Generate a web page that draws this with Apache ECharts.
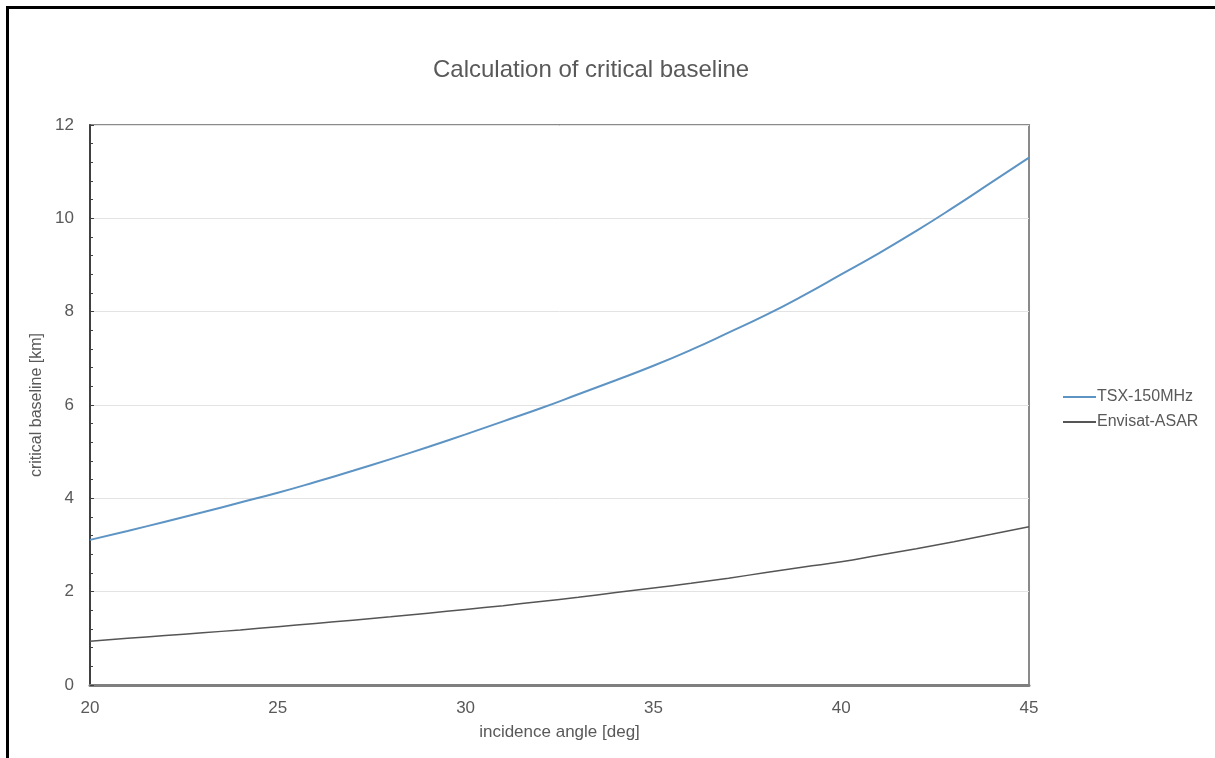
<!DOCTYPE html>
<html>
<head>
<meta charset="utf-8">
<script src="https://cdn.jsdelivr.net/npm/echarts@6/dist/echarts.min.js"></script>
<style>
  html, body { margin: 0; padding: 0; background: #fff; }
  #frame { position: absolute; left: 6px; top: 6px; width: 1215px; height: 760px;
           border-left: 3px solid #000; border-top: 3px solid #000; }
  #chart { position: absolute; left: 0; top: 0; width: 1215px; height: 758px; }
</style>
</head>
<body>
<div id="frame"></div>
<div id="chart"></div>
<script>
// incidence angle [deg]
const angles = [20, 21, 22, 23, 24, 25, 26, 27, 28, 29, 30, 31, 32, 33, 34, 35,
                36, 37, 38, 39, 40, 41, 42, 43, 44, 45]
// critical baseline [km]
const tsx = [3.11, 3.30, 3.50, 3.70, 3.91, 4.12, 4.35, 4.59, 4.84, 5.10, 5.37, 5.65,
             5.93, 6.23, 6.53, 6.84, 7.18, 7.55, 7.93, 8.35, 8.80, 9.25, 9.73, 10.24,
             10.77, 11.30]
const envisat = [0.94, 1.00, 1.06, 1.12, 1.18, 1.25, 1.32, 1.39, 1.46, 1.54, 1.62, 1.70,
                 1.79, 1.88, 1.98, 2.08, 2.18, 2.29, 2.41, 2.53, 2.64, 2.78, 2.92, 3.07,
                 3.23, 3.39]
const seriesNames = ['TSX-150MHz', 'Envisat-ASAR']

const font = 'Liberation Sans, Arial, sans-serif'
const myChart = echarts.init(document.getElementById('chart'))

const pairs = (ys) => angles.map((a, i) => [a, ys[i]])

myChart.setOption({
  animation: false,
  title: {
    text: 'Calculation of critical baseline',
    left: 428,
    top: 53,
    textStyle: {color: '#595959', fontSize: 24, fontWeight: 'normal', fontFamily: font}
  },
  legend: {
    orient: 'vertical',
    left: 1058,
    top: 384,
    itemWidth: 33,
    itemHeight: 2,
    itemGap: 9,
    icon: 'rect',
    textStyle: {color: '#595959', fontSize: 16, fontFamily: font, padding: [0, 0, 0, -4]},
    data: seriesNames
  },
  grid: {
    left: 90, right: 186, top: 125, bottom: 73,
    show: true, borderColor: '#8a8a8a', borderWidth: 2, backgroundColor: 'transparent'
  },
  xAxis: {
    type: 'value',
    min: 20, max: 45, interval: 5,
    name: 'incidence angle [deg]',
    nameLocation: 'middle',
    nameGap: 39,
    nameTextStyle: {color: '#595959', fontSize: 17, fontFamily: font},
    axisLine: {show: true, lineStyle: {color: '#7f7f7f', width: 3}},
    axisTick: {show: false},
    splitLine: {show: false},
    axisLabel: {color: '#595959', fontSize: 17, fontFamily: font, margin: 15}
  },
  yAxis: {
    type: 'value',
    min: 0, max: 12, interval: 2,
    name: 'critical baseline [km]',
    nameLocation: 'middle',
    nameGap: 38,
    nameTextStyle: {color: '#595959', fontSize: 16, fontFamily: font},
    axisLine: {show: true, lineStyle: {color: '#404040', width: 2}},
    axisTick: {show: true, inside: true, length: 4, lineStyle: {color: '#404040'}},
    minorTick: {show: true, splitNumber: 5, length: 3, lineStyle: {color: '#404040'}},
    splitLine: {show: true, lineStyle: {color: '#e3e3e3', width: 1}},
    axisLabel: {color: '#595959', fontSize: 17, fontFamily: font, margin: 16}
  },
  series: [
    {
      name: seriesNames[0], type: 'line', data: pairs(tsx), smooth: true,
      showSymbol: false, lineStyle: {color: '#5d94c4', width: 2}, itemStyle: {color: '#5d94c4'}
    },
    {
      name: seriesNames[1], type: 'line', data: pairs(envisat), smooth: true,
      showSymbol: false, lineStyle: {color: '#555555', width: 1.5}, itemStyle: {color: '#555555'}
    }
  ]
})
</script>
</body>
</html>
